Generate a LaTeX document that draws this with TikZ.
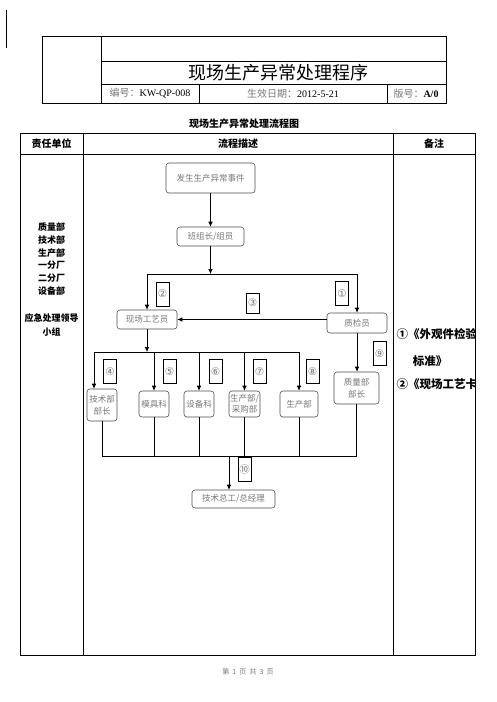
\documentclass[tikz,border=0pt]{standalone}
\usepackage{fontspec}
\setmainfont{Liberation Serif}
\newfontfamily\cjk{Noto Sans CJK SC}
\newfontfamily\symb{DejaVu Sans}
\usetikzlibrary{arrows.meta,positioning}
\definecolor{boxGray}{HTML}{4D4D4D}
\definecolor{txtGray}{HTML}{777777}

\begin{document}
\begin{tikzpicture}[x=1pt,y=-1pt,
    flowbox/.style={draw=boxGray,rounded corners=3pt,align=center,inner sep=0pt,line width=0.6pt,text=txtGray,font=\cjk\fontsize{8.5}{11.5}\selectfont},
    numbox/.style={draw,line width=0.6pt,minimum width=13pt,minimum height=24pt,inner sep=0pt,text=txtGray,font=\symb\fontsize{10.5}{11}\selectfont},
    flowarrow/.style={-{Latex[length=5pt,width=4.5pt]},line width=0.6pt},
    flowline/.style={line width=0.6pt},
    frame/.style={line width=0.9pt},
    headtext/.style={font=\cjk\bfseries\fontsize{10}{12}\selectfont}]
  \useasboundingbox (0,0) rectangle (496,702);
  \draw[line width=0.8pt] (6,10) -- (6,48);
  % document header
  \draw[frame] (42,36) rectangle (446,103);
  \draw[frame] (101,36) -- (101,103);
  \draw[frame] (101,61) -- (446,61);
  \draw[frame] (101,84) -- (446,84);
  \draw[frame] (199,84) -- (199,103);
  \draw[frame] (387,84) -- (387,103);
  \node[font=\cjk\fontsize{18}{20}\selectfont] (title) at (278,72.5) {现场生产异常处理程序};
  \node[font=\fontsize{10}{12}\selectfont] (docno) at (150,93.5) {{\cjk\color{txtGray}编号：}KW-QP-008};
  \node[font=\fontsize{10}{12}\selectfont] (docdate) at (293,93.5) {{\cjk\color{txtGray}生效日期：}2012-5-21};
  \node[font=\fontsize{10}{12}\selectfont] (docver) at (416,93.5) {{\cjk\color{txtGray}版号：}\textbf{A/0}};
  \node[headtext] (subtitle) at (244,124) {现场生产异常处理流程图};
  % main table
  \draw[frame] (20,133) rectangle (475,655);
  \draw[frame] (20,154) -- (475,154);
  \draw[frame] (83,133) -- (83,655);
  \draw[frame] (393,133) -- (393,655);
  \node[headtext] (hunit) at (51.5,143.5) {责任单位};
  \node[headtext] (hflow) at (238,143.5) {流程描述};
  \node[headtext] (hnote) at (434,143.5) {备注};
  \node[align=center,font=\cjk\bfseries\fontsize{9}{12.8}\selectfont] (units) at (51.5,259) {质量部\\技术部\\生产部\\一分厂\\二分厂\\设备部};
  \node[align=center,font=\cjk\bfseries\fontsize{9}{14}\selectfont] (team) at (51.5,325) {应急处理领导\\小组};
  \begin{scope}
    \clip (393,154) rectangle (475,655);
    \node[anchor=west,font=\cjk\bfseries\fontsize{11.5}{13}\selectfont] (note1) at (393,334) {①《外观件检验};
    \node[font=\cjk\bfseries\fontsize{11.5}{13}\selectfont] (note1b) at (430,361) {标准》};
    \node[anchor=west,font=\cjk\bfseries\fontsize{11.5}{13}\selectfont] (note2) at (393,384) {②《现场工艺卡》};
  \end{scope}
  \node[text=txtGray,font=\cjk\fontsize{7}{8}\selectfont] (pageno) at (248,672) {第~~1~~页~~共~~3~~页};
  % flow nodes
  \node[flowbox,minimum width=89pt,minimum height=30pt] (event) at (210.5,178) {发生生产异常事件};
  \node[flowbox,minimum width=67pt,minimum height=19pt] (leader) at (210.5,236.5) {班组长/组员};
  \node[flowbox,minimum width=60pt,minimum height=19pt] (craft) at (147,319.5) {现场工艺员};
  \node[flowbox,minimum width=60pt,minimum height=20pt] (inspect) at (357,323) {质检员};
  \node[flowbox,minimum width=30pt,minimum height=32pt] (techmgr) at (102,405) {技术部\\部长};
  \node[flowbox,minimum width=30pt,minimum height=26pt] (mould) at (154,404) {模具科};
  \node[flowbox,minimum width=30pt,minimum height=26pt] (equip) at (199,404) {设备科};
  \node[flowbox,minimum width=31pt,minimum height=26pt] (prodbuy) at (244.5,404) {生产部/\\采购部};
  \node[flowbox,minimum width=38pt,minimum height=26pt] (prod) at (299,404) {生产部};
  \node[flowbox,minimum width=45pt,minimum height=32pt] (qualmgr) at (356.5,388) {质量部\\部长};
  \node[flowbox,minimum width=83pt,minimum height=18pt] (chief) at (233.5,499) {技术总工/总经理};
  \coordinate (split) at (210.5,274);
  \coordinate (branch) at (147,352);
  \coordinate (merge) at (229,456);
  % connectors
  \draw[flowarrow] (event) -- (leader);
  \draw[flowarrow] (leader) -- (split);
  \draw[flowline] (craft.north |- split) -- (inspect.north |- split);
  \draw[flowarrow] (craft.north |- split) -- (craft.north);
  \draw[flowarrow] (inspect.north |- split) -- (inspect.north);
  \draw[flowarrow] (inspect.west |- craft) -- (craft.east);
  \draw[flowarrow] (craft) -- (branch);
  \draw[flowline] ([xshift=-8pt]techmgr.north |- branch) -- (prod.north |- branch);
  \draw[flowarrow] ([xshift=-8pt]techmgr.north |- branch) -- ([xshift=-8pt]techmgr.north);
  \foreach \n in {mould,equip,prodbuy,prod}
    \draw[flowarrow] (\n.north |- branch) -- (\n.north);
  \draw[flowarrow] (inspect.south) -- (inspect.south |- qualmgr.north);
  \draw[flowline] (techmgr.south |- merge) -- (qualmgr.south |- merge);
  \foreach \n in {techmgr,mould,equip,prodbuy,prod,qualmgr}
    \draw[flowline] (\n.south) -- (\n.south |- merge);
  \draw[flowarrow] (merge) -- (chief.north -| merge);
  % step numbers
  \node[numbox] (num2) at (162.5,294) {②};
  \node[numbox,minimum height=20pt] (num3) at (252.5,303) {③};
  \node[numbox] (num1) at (342,293.5) {①};
  \foreach \lab/\x [count=\i from 4] in {④/110,⑤/169.5,⑥/215.5,⑦/259.5,⑧/312.5}
    \node[numbox] (num\i) at (\x,371.5) {\lab};
  \node[numbox] (num9) at (379.5,353.5) {⑨};
  \node[numbox,font=\cjk\fontsize{10.5}{11}\selectfont] (num10) at (244.5,469.5) {⑩};
\end{tikzpicture}
\end{document}
